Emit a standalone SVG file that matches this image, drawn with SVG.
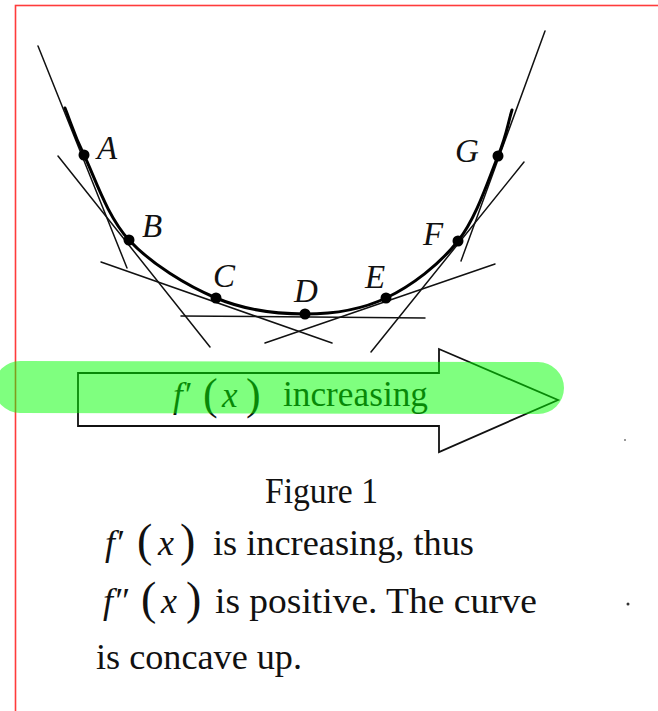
<svg xmlns="http://www.w3.org/2000/svg" width="658" height="711" viewBox="0 0 658 711">
<style>
.ln{stroke:#111;stroke-width:1.5;fill:none;stroke-linecap:round}
.cv{stroke:#000;stroke-width:3;fill:none;stroke-linecap:round}
.dot{fill:#000}
.lbl{font-family:"Liberation Serif","Times New Roman",serif;font-style:italic;font-size:33px;fill:#111}
.t{font-family:"Liberation Serif","Times New Roman",serif;font-size:36px;fill:#111}
.it{font-style:italic}
.par{font-size:46px}
</style>
<rect width="658" height="711" fill="#fff"/>
<rect x="15.5" y="5.5" width="700" height="800" fill="none" stroke="#ff3b3b" stroke-width="1.6"/>

<g id="connectors">
  <line class="ln" x1="38" y1="46" x2="127" y2="268"/>
  <line class="ln" x1="58" y1="156" x2="210" y2="347"/>
  <line class="ln" x1="101" y1="262" x2="332" y2="343"/>
  <line class="ln" x1="181" y1="316" x2="425" y2="318"/>
  <line class="ln" x1="265" y1="343" x2="495" y2="264"/>
  <line class="ln" x1="371" y1="352" x2="524" y2="162"/>
  <line class="ln" x1="545" y1="31" x2="461" y2="261"/>
  <path id="curve" class="cv" d="M65,108 C71.3,123.7 73.3,133 84,155 C94.7,177 107,216.2 129,240 C151,263.8 186.7,285.7 216,298 C245.3,310.3 276.7,314 305,314 C333.3,314 360.5,310.2 386,298 C411.5,285.8 439.3,264.7 458,241 C476.7,217.3 489,177.8 498,156 C507,134.2 507.3,125.3 512,110"/>
</g>

<g id="A"><circle class="dot" cx="84" cy="155" r="5.5"/><text class="lbl" x="97" y="159">A</text></g>
<g id="B"><circle class="dot" cx="129" cy="240" r="5.5"/><text class="lbl" x="142" y="237">B</text></g>
<g id="C"><circle class="dot" cx="216" cy="298" r="5.5"/><text class="lbl" x="213" y="287">C</text></g>
<g id="D"><circle class="dot" cx="305" cy="314" r="5.5"/><text class="lbl" x="294" y="302">D</text></g>
<g id="E"><circle class="dot" cx="386" cy="298" r="5.5"/><text class="lbl" x="365" y="288">E</text></g>
<g id="F"><circle class="dot" cx="458" cy="241" r="5.5"/><text class="lbl" x="423" y="245">F</text></g>
<g id="G"><circle class="dot" cx="498" cy="156" r="5.5"/><text class="lbl" x="455" y="162">G</text></g>

<g id="arrow">
  <path d="M78,373 L439,373 L439,349 L558,400 L439,452 L439,426 L78,426 Z" fill="#fff" stroke="#111" stroke-width="1.8" stroke-linejoin="miter"/>
  <text class="t it" x="173" y="407" style="font-size:35px">f′</text>
  <text class="t par" x="203" y="409" style="font-size:44px">(</text>
  <text class="t it" x="222" y="407" style="font-size:35px">x</text>
  <text class="t par" x="246" y="409" style="font-size:44px">)</text>
  <text class="t" x="283" y="406" textLength="145" lengthAdjust="spacingAndGlyphs" style="font-size:35px">increasing</text>
</g>

<path id="highlight" d="M20,387 L538,388" stroke="#00ff00" stroke-opacity="0.5" stroke-width="52" stroke-linecap="round" fill="none"/>

<g id="caption">
  <text class="t" x="265" y="503" textLength="113" lengthAdjust="spacingAndGlyphs">Figure 1</text>

  <text class="t it" x="105" y="555">f′</text>
  <text class="t par" x="137" y="556">(</text>
  <text class="t it" x="158" y="555">x</text>
  <text class="t par" x="180" y="556">)</text>
  <text class="t" x="213" y="555" textLength="261" lengthAdjust="spacingAndGlyphs">is increasing, thus</text>

  <text class="t it" x="103" y="613">f″</text>
  <text class="t par" x="141" y="614">(</text>
  <text class="t it" x="161" y="613">x</text>
  <text class="t par" x="186" y="614">)</text>
  <text class="t" x="215" y="613" textLength="322" lengthAdjust="spacingAndGlyphs">is positive.  The curve</text>

  <text class="t" x="96" y="669" textLength="206" lengthAdjust="spacingAndGlyphs">is concave up.</text>
</g>
<circle cx="628" cy="604" r="1.5" fill="#333"/>
<circle cx="625" cy="440" r="1" fill="#777"/>
</svg>
